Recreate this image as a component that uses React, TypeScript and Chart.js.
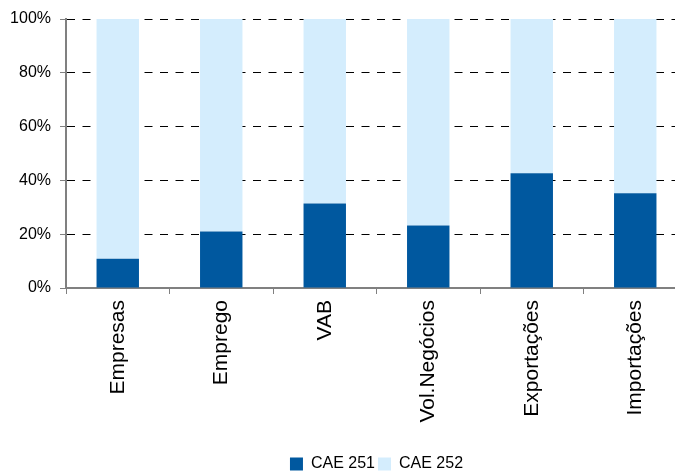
import React, { useEffect, useRef } from "react";
import { Chart, registerables } from "chart.js";

Chart.register(...registerables);

const categories = ["Empresas", "Emprego", "VAB", "Vol.Negócios", "Exportações", "Importações"];
const cae251 = [10.9, 21.0, 31.4, 23.2, 42.7, 35.2];
const cae252 = cae251.map((v) => 100 - v);
const seriesNames = ["CAE 251", "CAE 252"];
const yTicks = [0, 20, 40, 60, 80, 100];

export default function App() {
  const ref = useRef<HTMLCanvasElement>(null);

  useEffect(() => {
    if (!ref.current) return;
    const chart = new Chart(ref.current, {
      type: "bar",
      data: {
        labels: categories,
        datasets: [
          { label: seriesNames[0], data: cae251, backgroundColor: "#00589F", borderWidth: 0 },
          { label: seriesNames[1], data: cae252, backgroundColor: "#D4EDFD", borderWidth: 0 },
        ],
      },
      options: {
        responsive: false,
        animation: false,
        devicePixelRatio: 1,
        layout: { padding: { left: 0, right: 63, top: 19, bottom: 0 } },
        datasets: { bar: { barPercentage: 0.41, categoryPercentage: 1 } },
        plugins: {
          legend: {
            position: "bottom",
            fullSize: false,
            labels: {
              boxWidth: 13,
              boxHeight: 13,
              padding: 3,
              color: "#000",
              font: { family: "'Liberation Sans', Arial, sans-serif", size: 16 },
            },
          },
          tooltip: { enabled: false },
        },
        scales: {
          x: {
            stacked: true,
            afterFit: (s: any) => {
              s.height = 165;
            },
            grid: {
              drawOnChartArea: false,
              drawTicks: true,
              tickLength: 6,
              color: "#808080",
              offset: true,
            },
            border: { color: "#808080", width: 2 },
            ticks: {
              autoSkip: false,
              minRotation: 90,
              maxRotation: 90,
              padding: 6,
              color: "#000",
              font: { family: "'Liberation Sans', Arial, sans-serif", size: 21 },
            },
          },
          y: {
            stacked: true,
            min: 0,
            max: 100,
            afterFit: (s: any) => {
              s.width = 66;
            },
            afterBuildTicks: (s: any) => {
              s.ticks = yTicks.map((v) => ({ value: v }));
            },
            grid: {
              color: "#000",
              lineWidth: 1,
              tickBorderDash: [],
              tickColor: "#808080",
              tickLength: 6,
              drawTicks: true,
            },
            border: { color: "#808080", width: 2, dash: [8, 7.5] },
            ticks: {
              padding: 9,
              color: "#000",
              font: { family: "'Liberation Sans', Arial, sans-serif", size: 16 },
              callback: (v: any) => v + "%",
            },
          },
        },
      },
    });
    return () => chart.destroy();
  }, []);

  return (
    <div style={{ position: "absolute", left: 0, top: 0, width: 675, height: 472, overflow: "hidden", background: "#fff" }}>
      <canvas ref={ref} width={750} height={482} style={{ width: 750, height: 482, display: "block" }} />
    </div>
  );
}
